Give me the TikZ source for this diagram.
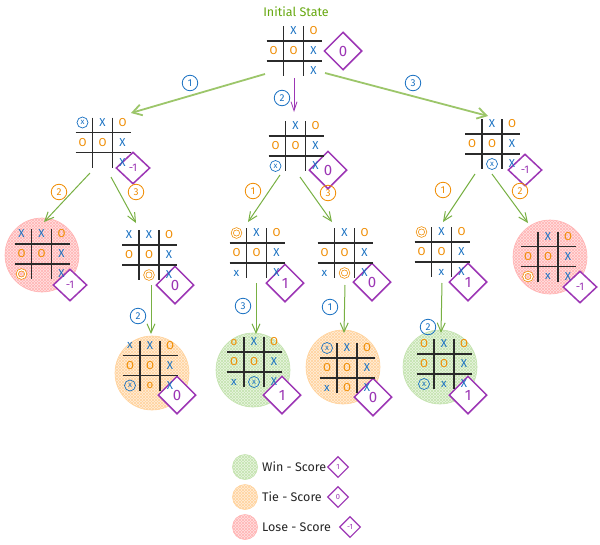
\documentclass[tikz,border=0pt]{standalone}
\usepackage{fontspec}
\setmainfont{Fira Sans}
\usetikzlibrary{shapes.geometric,arrows.meta,patterns}
\definecolor{xblue}{HTML}{1971C2}
\definecolor{oorange}{HTML}{F08C00}
\definecolor{dpurple}{HTML}{9C36B5}
\definecolor{lgreen}{HTML}{9CC66A}
\definecolor{agreen}{HTML}{78B043}
\definecolor{tgreen}{HTML}{66A80F}
\definecolor{gridc}{HTML}{2B2B2B}
\definecolor{redfill}{HTML}{FFE2E2}
\definecolor{redhatch}{HTML}{FFB5B5}
\definecolor{orfill}{HTML}{FFEEDA}
\definecolor{orhatch}{HTML}{FFD49E}
\definecolor{grfill}{HTML}{EAF6E2}
\definecolor{grhatch}{HTML}{C5E4B0}
\tikzset{
  gridline/.style={draw=gridc, line width=1.1pt},
  boardbox/.style={rectangle, inner sep=0pt, minimum width=56pt, minimum height=50pt},
  cell/.style={inner sep=0pt, font=\fontsize{11.5}{11.5}\selectfont},
  sN/.style={node contents={}},
  sX/.style={text=xblue, node contents={X}},
  sO/.style={text=oorange, node contents={O}},
  sx/.style={text=xblue, node contents={x}},
  so/.style={text=oorange, node contents={o}},
  sXc/.style={text=xblue, draw=xblue, circle, line width=0.7pt, minimum size=11pt, font=\fontsize{8}{8}\selectfont, node contents={x}},
  sOc/.style={draw=oorange, circle, line width=0.7pt, double=white, double distance=1.3pt, minimum size=8.5pt, node contents={}},
  pics/board/.style n args={9}{code={
    \node[boardbox] (-b) at (0,0) {};
    \draw[gridline] (-27,-10) -- (28,-10);
    \draw[gridline] (-27,10) -- (28,10);
    \draw[gridline] (-10,-25) -- (-10,25);
    \draw[gridline] (10,-25) -- (10,25);
    \node (-c1) at (-20,-20) [cell,#1];
    \node (-c2) at (0,-20) [cell,#2];
    \node (-c3) at (20,-20) [cell,#3];
    \node (-c4) at (-20,0) [cell,#4];
    \node (-c5) at (0,0) [cell,#5];
    \node (-c6) at (20,0) [cell,#6];
    \node (-c7) at (-20,20) [cell,#7];
    \node (-c8) at (0,20) [cell,#8];
    \node (-c9) at (20,20) [cell,#9];
  }},
  dia/.style={diamond, draw=dpurple, line width=1.5pt, fill=white, text=dpurple, inner sep=0pt,
    minimum width=38pt, minimum height=38pt, font=\fontsize{15}{15}\selectfont},
  diam/.style={dia, minimum width=34pt, minimum height=32pt, font=\fontsize{11}{11}\selectfont},
  diasmall/.style={dia, line width=1.1pt, minimum width=21pt, minimum height=21pt, font=\fontsize{7.5}{7.5}\selectfont},
  numb/.style={circle, draw=xblue, text=xblue, line width=0.8pt, inner sep=0pt, minimum size=15.5pt, font=\fontsize{10}{10}\selectfont},
  numo/.style={numb, draw=oorange, text=oorange},
  bgc/.style={circle, inner sep=0pt, minimum size=74pt, line width=0.6pt},
  losebg/.style={bgc, draw=redhatch, preaction={fill=redfill}, pattern=north east lines, pattern color=redhatch, postaction={pattern=north west lines, pattern color=redhatch}},
  tiebg/.style={bgc, draw=orhatch, preaction={fill=orfill}, pattern=north east lines, pattern color=orhatch, postaction={pattern=north west lines, pattern color=orhatch}},
  winbg/.style={bgc, draw=grhatch, preaction={fill=grfill}, pattern=north east lines, pattern color=grhatch, postaction={pattern=north west lines, pattern color=grhatch}},
  toparrow/.style={draw=lgreen, line width=1.8pt, -{Straight Barb[length=9pt, width=11pt]}},
  midarrow/.style={draw=dpurple, line width=0.8pt, -{Straight Barb[length=9pt, width=6pt]}},
  lvarrow/.style={draw=agreen, line width=1pt, -{Straight Barb[length=9pt, width=8pt]}},
  legtext/.style={anchor=west, inner sep=0pt, font=\fontsize{12.5}{12.5}\selectfont, text=black!85},
}
\begin{document}
\begin{tikzpicture}[x=1pt, y=-1pt]
\useasboundingbox (0,0) rectangle (600,544);
\fill[white] (0,0) rectangle (600,544);

% backgrounds
\node[losebg] (bgA) at (42,255) {};
\node[losebg] (bgF) at (550,257) {};
\node[tiebg] (bgG) at (152,373) {};
\node[winbg] (bgH) at (253,370) {};
\node[tiebg] (bgI) at (343,367) {};
\node[winbg] (bgJ) at (440,367) {};

\node[text=tgreen, font=\fontsize{12.5}{12.5}\selectfont] (title) at (296,12) {Initial State};

% scores (drawn beneath the marks)
\node[dia] (top-d) at (343,51) {0};
\node[diam] (la-d) at (133,168) {-1};
\node[dia] (lb-d) at (328,170) {0};
\node[diam] (lc-d) at (525,170) {-1};
\node[diam] (ma-d) at (70,285) {-1};
\node[dia] (mb-d) at (175,285) {0};
\node[dia] (mc-d) at (285,283) {1};
\node[dia] (md-d) at (372,282) {0};
\node[dia] (me-d) at (468,282) {1};
\node[diam] (mf-d) at (580,287) {-1};
\node[dia] (na-d) at (177,395) {0};
\node[dia] (nb-d) at (282,395) {1};
\node[dia] (nc-d) at (373,397) {0};
\node[dia] (nd-d) at (468,395) {1};

% boards
\pic (top) at (293.5,51) {board={sN}{sX}{sO}{sO}{sO}{sX}{sN}{sN}{sX}};
\pic (la) at (102.5,142.5) {board={sXc}{sX}{sO}{sO}{sO}{sX}{sN}{sN}{sX}};
\pic (lb) at (295.5,146) {board={sN}{sX}{sO}{sO}{sO}{sX}{sXc}{sN}{sX}};
\pic (lc) at (492,144) {board={sN}{sX}{sO}{sO}{sO}{sX}{sN}{sXc}{sX}};
\pic (ma) at (41.5,254) {board={sX}{sX}{sO}{sO}{sO}{sX}{sOc}{sN}{sX}};
\pic (mb) at (149,255) {board={sX}{sX}{sO}{sO}{sO}{sX}{sN}{sOc}{sX}};
\pic (mc) at (256.5,253) {board={sOc}{sX}{sO}{sO}{sO}{sX}{sx}{sN}{sX}};
\pic (md) at (344.5,253) {board={sN}{sX}{sO}{sO}{sO}{sX}{sx}{sOc}{sX}};
\pic (me) at (441.5,252) {board={sOc}{sX}{sO}{sO}{sO}{sX}{sN}{sx}{sX}};
\pic (mf) at (548,256.5) {board={sN}{sX}{sO}{sO}{sO}{sX}{sOc}{sx}{sX}};
\pic (na) at (150,365.5) {board={sx}{sX}{sO}{sO}{sO}{sX}{sXc}{so}{sX}};
\pic (nb) at (254,362) {board={so}{sX}{sO}{sO}{sO}{sX}{sx}{sXc}{sX}};
\pic (nc) at (347,368) {board={sXc}{sX}{sO}{sO}{sO}{sX}{sx}{sO}{sX}};
\pic (nd) at (444,364) {board={sO}{sX}{sO}{sO}{sO}{sX}{sXc}{sx}{sX}};

% top arrows
\draw[toparrow] ([shift={(-28.5,23)}]top-b.center) -- ([shift={(28.5,-29.5)}]la-b.center);
\draw[midarrow] ([shift={(0.5,27)}]top-b.center) -- ([shift={(-1.5,-34)}]lb-b.center);
\draw[toparrow] ([shift={(31.5,22)}]top-b.center) -- ([shift={(-4,-28)}]lc-b.center);
\node[numb] (n1) at (190,83) {1};
\node[numb] (n2) at (282,98) {2};
\node[numb] (n3) at (413,83) {3};

% level 2 arrows
\draw[lvarrow] ([shift={(-12.5,30.5)}]la-b.center) -- ([shift={(2.5,-32)}]ma-b.center);
\draw[lvarrow] ([shift={(8.5,34.5)}]la-b.center) -- ([shift={(-13,-32)}]mb-b.center);
\draw[lvarrow] ([shift={(-15.5,29)}]lb-b.center) -- ([shift={(-8.5,-31)}]mc-b.center);
\draw[lvarrow] ([shift={(4.5,31)}]lb-b.center) -- ([shift={(-12.5,-31)}]md-b.center);
\draw[lvarrow] ([shift={(-17,30)}]lc-b.center) -- ([shift={(1.5,-30)}]me-b.center);
\draw[lvarrow] ([shift={(0,30)}]lc-b.center) -- ([shift={(-20,-33.5)}]mf-b.center);
\node[numo] (o1) at (59,192) {2};
\node[numo] (o2) at (136,192) {3};
\node[numo] (o3) at (253,191) {1};
\node[numo] (o4) at (328,193) {3};
\node[numo] (o5) at (443,190) {1};
\node[numo] (o6) at (520,191) {2};

% level 3 arrows
\draw[lvarrow] ([shift={(2,30)}]mb-b.center) -- ([shift={(1,-31.5)}]na-b.center);
\draw[lvarrow] ([shift={(-0.5,30)}]mc-b.center) -- ([shift={(2,-28)}]nb-b.center);
\draw[lvarrow] ([shift={(0.5,32)}]md-b.center) -- ([shift={(-3,-35)}]nc-b.center);
\draw[lvarrow] ([shift={(0.5,31)}]me-b.center) -- ([shift={(-3,-31)}]nd-b.center);
\node[numb] (b1) at (138,316) {2};
\node[numb] (b2) at (243,306) {3};
\node[numb] (b3) at (330,307) {1};
\node[numb] (b4) at (428,327) {2};

% legend
\node[winbg, minimum size=25pt] (lw) at (245,467) {};
\node[tiebg, minimum size=25pt] (lt) at (245,497) {};
\node[losebg, minimum size=25pt] (ll) at (245,527) {};
\node[legtext] (tw) at (262,467) {Win - Score};
\node[legtext] (tt) at (262,497) {Tie - Score};
\node[legtext] (tl) at (262,527) {Lose - Score};
\node[diasmall] (dw) at (338,467) {1};
\node[diasmall] (dt) at (338,497) {0};
\node[diasmall] (dl) at (350,527) {-1};
\end{tikzpicture}
\end{document}
